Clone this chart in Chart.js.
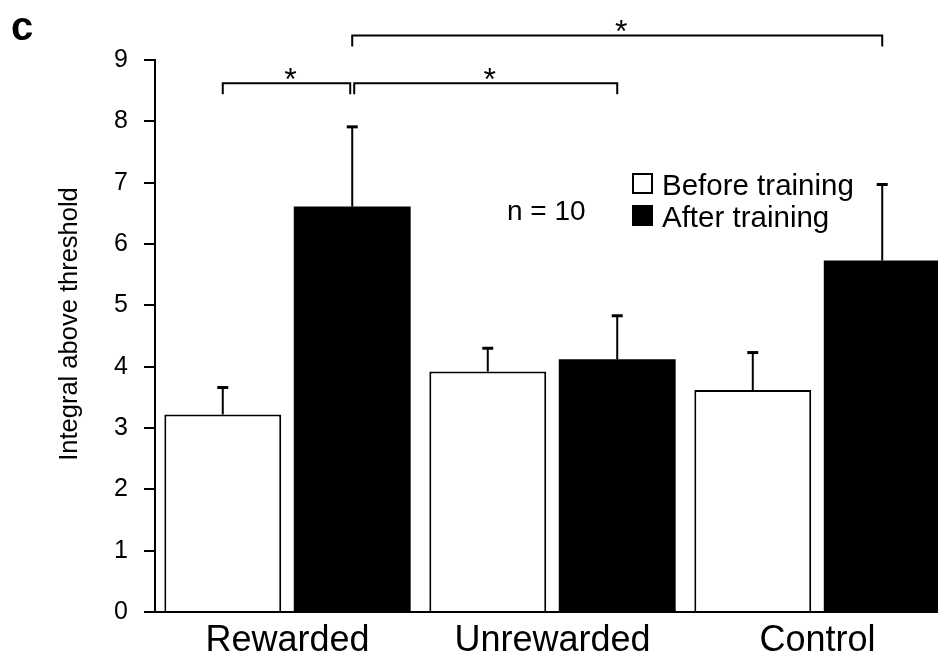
<!DOCTYPE html>
<html>
<head>
<meta charset="utf-8">
<script src="https://cdn.jsdelivr.net/npm/chart.js@4/dist/chart.umd.min.js"></script>
<style>
  html, body { margin: 0; padding: 0; background: #fff; overflow: hidden; }
  #wrap { width: 938px; height: 661px; overflow: hidden; position: relative; }
  canvas { display: block; }
</style>
</head>
<body>
<div id="wrap"><canvas id="chart" width="960" height="661"></canvas></div>
<script>
// Response integral per condition, before vs. after training (mean and SEM)
const categories = ['Rewarded', 'Unrewarded', 'Control'];
const seriesLabels = ['Before training', 'After training'];
const beforeTraining = [3.22, 3.92, 3.62];
const afterTraining = [6.61, 4.12, 5.73];
const beforeSem = [0.44, 0.38, 0.61];
const afterSem = [1.30, 0.71, 1.24];
const yTicks = [0, 1, 2, 3, 4, 5, 6, 7, 8, 9];
const yTitle = 'Integral above threshold';
const sampleNote = 'n = 10';
const panelLetter = 'c';

// Significance brackets: [dataset, category] endpoints, bracket height in data units
const comparisons = [
  { from: [0, 0], to: [1, 0], level: 8.62, label: '*' },
  { from: [1, 0], to: [1, 1], level: 8.62, label: '*' },
  { from: [1, 0], to: [1, 2], level: 9.40, label: '*' }
];

const FONT = "'Liberation Sans', Arial, Helvetica, sans-serif";
const INK = '#000';

const errorBarPlugin = {
  id: 'errorBars',
  afterDatasetsDraw(chart) {
    const { ctx, scales: { y } } = chart;
    const sems = [beforeSem, afterSem];
    ctx.save();
    ctx.strokeStyle = INK;
    chart.data.datasets.forEach((ds, di) => {
      const meta = chart.getDatasetMeta(di);
      meta.data.forEach((bar, i) => {
        const v = ds.data[i];
        const yTop = y.getPixelForValue(v + sems[di][i]);
        const yBar = y.getPixelForValue(v);
        ctx.lineWidth = 2;
        ctx.beginPath();
        ctx.moveTo(bar.x, yBar);
        ctx.lineTo(bar.x, yTop);
        ctx.stroke();
        ctx.lineWidth = 3;
        ctx.beginPath();
        ctx.moveTo(bar.x - 5.5, yTop);
        ctx.lineTo(bar.x + 5.5, yTop);
        ctx.stroke();
      });
    });
    ctx.restore();
  }
};

const annotationPlugin = {
  id: 'annotations',
  afterDraw(chart) {
    const { ctx, scales: { y } } = chart;
    const xOf = (p) => chart.getDatasetMeta(p[0]).data[p[1]].x;
    const same = (a, b) => a[0] === b[0] && a[1] === b[1];

    ctx.save();
    ctx.strokeStyle = INK;
    ctx.fillStyle = INK;
    ctx.lineWidth = 2;

    // significance brackets
    comparisons.forEach((c, ci) => {
      let x1 = xOf(c.from), x2 = xOf(c.to);
      comparisons.forEach((o, oi) => {
        if (oi === ci || o.level !== c.level) return;
        if (same(o.to, c.from) || same(o.from, c.from)) x1 += 2;
        if (same(o.from, c.to) || same(o.to, c.to)) x2 -= 2;
      });
      const yl = y.getPixelForValue(c.level);
      ctx.beginPath();
      ctx.moveTo(x1, yl + 11);
      ctx.lineTo(x1, yl);
      ctx.lineTo(x2, yl);
      ctx.lineTo(x2, yl + 11);
      ctx.stroke();
      ctx.font = `32px ${FONT}`;
      ctx.textAlign = 'center';
      ctx.textBaseline = 'alphabetic';
      ctx.fillText(c.label, (x1 + x2) / 2 + 4, yl + 7);
    });

    // y-axis title
    ctx.save();
    ctx.translate(70, 324);
    ctx.rotate(-Math.PI / 2);
    ctx.font = `25.5px ${FONT}`;
    ctx.textAlign = 'center';
    ctx.textBaseline = 'middle';
    ctx.fillText(yTitle, 0, 0);
    ctx.restore();

    // legend
    const boxX = 632, boxSize = 21;
    const rowBase = [195, 227];
    chart.data.datasets.forEach((ds, di) => {
      const top = rowBase[di] - 22;
      ctx.fillStyle = ds.backgroundColor;
      ctx.fillRect(boxX, top, boxSize, boxSize);
      if (ds.borderWidth) {
        ctx.lineWidth = 2;
        ctx.strokeStyle = INK;
        ctx.strokeRect(boxX + 1, top + 1, boxSize - 2, boxSize - 2);
      }
      ctx.fillStyle = INK;
      ctx.font = `29.5px ${FONT}`;
      ctx.textAlign = 'left';
      ctx.textBaseline = 'alphabetic';
      ctx.fillText(ds.label, boxX + 30, rowBase[di]);
    });

    // sample size
    ctx.font = `28px ${FONT}`;
    ctx.textAlign = 'left';
    ctx.fillText(sampleNote, 507, 220);

    // panel letter
    ctx.font = `bold 40px ${FONT}`;
    ctx.fillText(panelLetter, 11, 40);
    ctx.restore();
  }
};

new Chart(document.getElementById('chart'), {
  type: 'bar',
  data: {
    labels: categories,
    datasets: [
      {
        label: seriesLabels[0],
        data: beforeTraining,
        backgroundColor: '#fff',
        borderColor: INK,
        borderWidth: 2,
        borderSkipped: 'start',
        categoryPercentage: 0.977,
        barPercentage: 0.903
      },
      {
        label: seriesLabels[1],
        data: afterTraining,
        backgroundColor: INK,
        borderWidth: 0,
        categoryPercentage: 0.977,
        barPercentage: 0.903
      }
    ]
  },
  options: {
    responsive: false,
    animation: false,
    layout: { padding: { top: 60, right: 10, left: 0, bottom: 0 } },
    plugins: {
      legend: { display: false },
      tooltip: { enabled: false }
    },
    scales: {
      x: {
        grid: { display: false, drawTicks: false },
        border: { display: true, color: INK, width: 2 },
        ticks: { color: INK, font: { size: 36, family: FONT }, padding: 7 },
        afterFit(s) { s.height = 49; }
      },
      y: {
        min: 0,
        max: 9,
        afterBuildTicks(s) { s.ticks = yTicks.map(v => ({ value: v })); },
        grid: { drawOnChartArea: false, drawTicks: true, tickLength: 11, color: INK, lineWidth: 2 },
        border: { display: true, color: INK, width: 2 },
        ticks: { color: INK, font: { size: 25, family: FONT }, padding: 16 },
        afterFit(s) { s.width = 155; }
      }
    }
  },
  plugins: [errorBarPlugin, annotationPlugin]
});
</script>
</body>
</html>
